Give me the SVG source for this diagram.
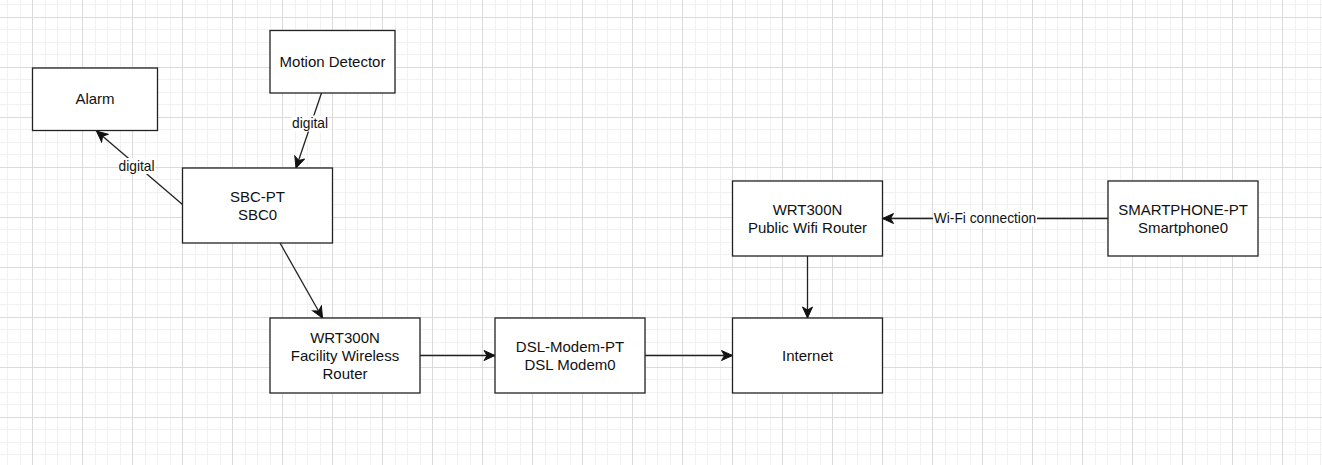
<svg xmlns="http://www.w3.org/2000/svg" width="1322" height="465" viewBox="0 0 1322 465">
<style>
.box{fill:#ffffff;stroke:#222222;stroke-width:1.3}
.t{font-family:"Liberation Sans",Arial,Helvetica,sans-serif;font-size:15px;fill:#111111;text-anchor:middle}
.lbl{font-family:"Liberation Sans",Arial,Helvetica,sans-serif;font-size:13.75px;fill:#111111;text-anchor:middle}
.edge{fill:none;stroke:#222222;stroke-width:1.3}
.lblbg{fill:#ffffff}
</style>
<defs>
<pattern id="grid" patternUnits="userSpaceOnUse" x="32" y="17" width="50" height="50">
<rect x="13" y="0" width="1" height="50" fill="#f1f1f1"/>
<rect x="25" y="0" width="1" height="50" fill="#f1f1f1"/>
<rect x="38" y="0" width="1" height="50" fill="#f1f1f1"/>
<rect x="0" y="12" width="50" height="1" fill="#f1f1f1"/>
<rect x="0" y="25" width="50" height="1" fill="#f1f1f1"/>
<rect x="0" y="37" width="50" height="1" fill="#f1f1f1"/>
<rect x="0" y="0" width="1" height="50" fill="#dadada"/>
<rect x="0" y="0" width="50" height="1" fill="#dadada"/>
</pattern>
<marker id="arr" markerUnits="userSpaceOnUse" viewBox="-12 -6 13 12" markerWidth="13" markerHeight="12" refX="0" refY="0" orient="auto">
<path d="M0,0 L-11,-5 L-8,0 L-11,5 Z" fill="#111111" stroke="#111111" stroke-width="1" stroke-linejoin="miter"/>
</marker>
</defs>
<rect x="0" y="0" width="1322" height="465" fill="#ffffff"/>
<rect x="0" y="0" width="1322" height="465" fill="url(#grid)"/>

<g id="connectors">
<g id="e-sbc-alarm">
<line class="edge" x1="182.5" y1="204.5" x2="96.5" y2="131" marker-end="url(#arr)"/>
<rect class="lblbg" x="118" y="158" width="37" height="16"/>
<text class="lbl" x="136.5" y="171">digital</text>
</g>
<g id="e-motion-sbc">
<line class="edge" x1="321.5" y1="93" x2="296" y2="168" marker-end="url(#arr)"/>
<rect class="lblbg" x="291.5" y="115.5" width="37" height="16"/>
<text class="lbl" x="310" y="128.3">digital</text>
</g>
<line id="e-sbc-facility" class="edge" x1="280" y1="243" x2="322.5" y2="318" marker-end="url(#arr)"/>
<line id="e-facility-dsl" class="edge" x1="420" y1="355.5" x2="495" y2="355.5" marker-end="url(#arr)"/>
<line id="e-dsl-internet" class="edge" x1="645" y1="355.5" x2="732.5" y2="355.5" marker-end="url(#arr)"/>
<line id="e-public-internet" class="edge" x1="807.5" y1="256" x2="807.5" y2="318" marker-end="url(#arr)"/>
<g id="e-phone-public">
<line class="edge" x1="1108" y1="218.5" x2="882.5" y2="218.5" marker-end="url(#arr)"/>
<rect class="lblbg" x="933" y="210.5" width="104" height="16"/>
<text class="lbl" x="985" y="223.3">Wi-Fi connection</text>
</g>
</g>

<g id="alarm">
<rect class="box" x="32.5" y="68" width="125" height="62.5"/>
<text class="t" x="95" y="104.3">Alarm</text>
</g>
<g id="motion-detector">
<rect class="box" x="270" y="30.5" width="125" height="62.5"/>
<text class="t" x="332.5" y="67">Motion Detector</text>
</g>
<g id="sbc">
<rect class="box" x="182.5" y="168" width="150" height="75"/>
<text class="t" x="257.5" y="202"><tspan x="257.5">SBC-PT</tspan><tspan x="257.5" dy="18">SBC0</tspan></text>
</g>
<g id="facility-router">
<rect class="box" x="270" y="318" width="150" height="75"/>
<text class="t" x="345" y="342.8"><tspan x="345">WRT300N</tspan><tspan x="345" dy="18">Facility Wireless</tspan><tspan x="345" dy="18">Router</tspan></text>
</g>
<g id="dsl-modem">
<rect class="box" x="495" y="318" width="150" height="75"/>
<text class="t" x="570" y="351.8"><tspan x="570">DSL-Modem-PT</tspan><tspan x="570" dy="18">DSL Modem0</tspan></text>
</g>
<g id="internet">
<rect class="box" x="732.5" y="318" width="150" height="75"/>
<text class="t" x="807.5" y="360.8">Internet</text>
</g>
<g id="public-router">
<rect class="box" x="732.5" y="181" width="150" height="75"/>
<text class="t" x="807.5" y="214.8"><tspan x="807.5">WRT300N</tspan><tspan x="807.5" dy="18">Public Wifi Router</tspan></text>
</g>
<g id="smartphone">
<rect class="box" x="1108" y="181" width="150" height="75"/>
<text class="t" x="1183" y="214.8"><tspan x="1183">SMARTPHONE-PT</tspan><tspan x="1183" dy="18">Smartphone0</tspan></text>
</g>
</svg>
